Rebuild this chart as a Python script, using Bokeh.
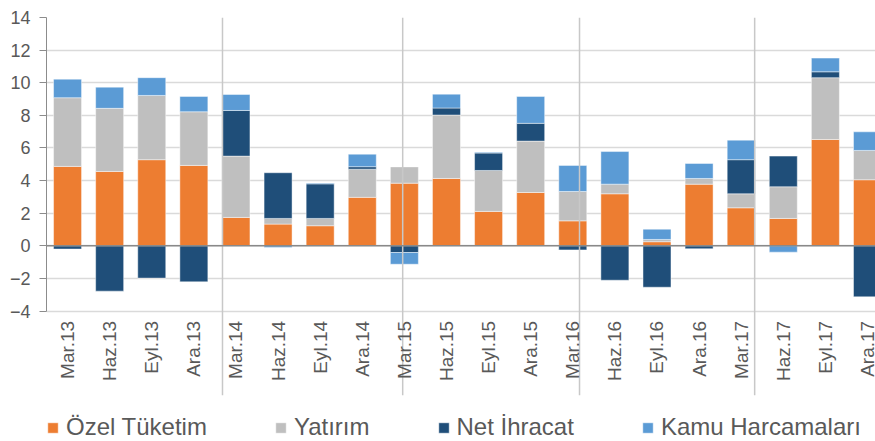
import numpy as np
from bokeh.plotting import figure
from bokeh.models import (Range1d, FixedTicker, Span, Legend, LegendItem,
                          ColumnDataSource)
from bokeh.core.properties import value
from bokeh.embed import file_html
from bokeh.resources import INLINE

categories = ["Mar.13", "Haz.13", "Eyl.13", "Ara.13", "Mar.14", "Haz.14", "Eyl.14", "Ara.14",
              "Mar.15", "Haz.15", "Eyl.15", "Ara.15", "Mar.16", "Haz.16", "Eyl.16", "Ara.16",
              "Mar.17", "Haz.17", "Eyl.17", "Ara.17"]
ozel_tuketim = [4.87, 4.56, 5.28, 4.93, 1.74, 1.33, 1.23, 2.97, 3.84, 4.13,
                2.11, 3.27, 1.53, 3.19, 0.25, 3.78, 2.33, 1.68, 6.52, 4.05]
yatirim = [4.21, 3.87, 3.94, 3.29, 3.76, 0.35, 0.45, 1.73, 1.00, 3.89,
           2.51, 3.15, 1.80, 0.59, 0.14, 0.35, 0.86, 1.94, 3.79, 1.80]
net_ihracat = [-0.20, -2.78, -1.98, -2.21, 2.80, 2.80, 2.12, 0.15, -0.41, 0.43,
               1.07, 1.09, -0.25, -2.11, -2.54, -0.18, 2.09, 1.88, 0.36, -3.13]
kamu_harcamalari = [1.14, 1.30, 1.09, 0.94, 0.98, -0.10, 0.05, 0.77, -0.72, 0.85,
                    0.05, 1.65, 1.60, 2.00, 0.63, 0.92, 1.20, -0.39, 0.84, 1.14]
series_names = ["Özel Tüketim", "Yatırım", "Net İhracat", "Kamu Harcamaları"]
series_colors = ["#ED7D31", "#BFBFBF", "#1F4E79", "#5B9BD5"]
y_ticks = [-4, -2, 0, 2, 4, 6, 8, 10, 12, 14]
year_separators = [3.68, 7.96, 12.16, 16.32]

n = len(categories)
xs = list(range(n))
FONT = "Liberation Sans"
TXT = "#595959"

p = figure(width=875, height=441, output_backend="svg", toolbar_location=None,
           x_range=Range1d(-0.5, 19.19), y_range=Range1d(-12.0, 14),
           min_border_left=46, min_border_right=0, min_border_top=17, min_border_bottom=0)
p.outline_line_color = None
p.background_fill_color = "white"
p.border_fill_color = "white"

pos = np.zeros(n)
neg = np.zeros(n)
renderers = []
for vals, color in zip([ozel_tuketim, yatirim, net_ihracat, kamu_harcamalari], series_colors):
    v = np.array(vals, dtype=float)
    bottom = np.where(v >= 0, pos, neg + v)
    top = np.where(v >= 0, pos + v, neg)
    pos = np.where(v >= 0, pos + v, pos)
    neg = np.where(v < 0, neg + v, neg)
    src = ColumnDataSource(dict(x=xs, top=top, bottom=bottom))
    r = p.vbar(x="x", top="top", bottom="bottom", width=0.665, source=src,
               fill_color=color, line_color="white", line_alpha=0.45, line_width=1)
    renderers.append(r)

# grid / y axis
p.xgrid.visible = False
p.ygrid.ticker = FixedTicker(ticks=y_ticks)
p.ygrid.grid_line_color = "#DADADA"
p.ygrid.grid_line_width = 1.5

p.yaxis.ticker = FixedTicker(ticks=y_ticks)
p.yaxis.bounds = (-4, 14)
p.yaxis.axis_line_color = "#8C8C8C"
p.yaxis.major_tick_line_color = "#8C8C8C"
p.yaxis.major_tick_out = 7
p.yaxis.major_tick_in = 0
p.yaxis.minor_tick_line_color = None
p.yaxis.major_label_text_font = FONT
p.yaxis.major_label_text_font_size = "18px"
p.yaxis.major_label_text_color = TXT
p.yaxis.major_label_standoff = 9

p.xaxis.visible = False

# year separator lines (from the top gridline down through the category labels)
n_sep = len(year_separators)
p.segment(x0=year_separators, y0=[14] * n_sep, x1=year_separators, y1=[-9.17] * n_sep,
          line_color="#C8C8C8", line_width=1.5)

# category labels (rotated), drawn just below the -4 line
lab_src = ColumnDataSource(dict(x=xs, y=[-4.6] * n, text=categories))
p.text(x="x", y="y", text="text", source=lab_src, angle=np.pi / 2,
       text_align="right", text_baseline="middle",
       text_font=value(FONT), text_font_size="19px", text_color=TXT)

p.add_layout(Span(location=0, dimension="width", line_color="#898989", line_width=1.5))

legend = Legend(items=[LegendItem(label=nm, renderers=[r]) for nm, r in zip(series_names, renderers)],
                orientation="horizontal", location=(0, 0),
                padding=0, margin=0, spacing=67, label_standoff=7,
                glyph_width=13, glyph_height=13,
                label_text_font=FONT, label_text_font_size="24px",
                label_text_color=TXT,
                border_line_color=None, background_fill_alpha=0)
p.add_layout(legend)

open("out.html", "w").write(file_html(p, INLINE))
